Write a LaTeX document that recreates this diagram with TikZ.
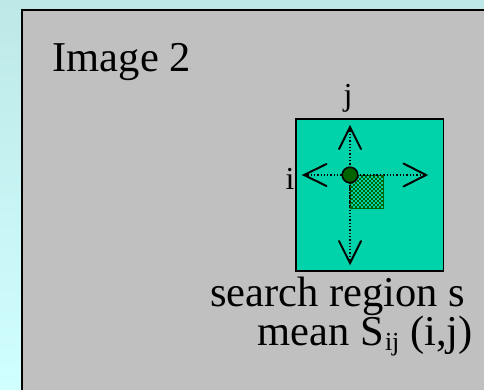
\documentclass[tikz,border=0pt]{standalone}
\usepackage{fontspec}
\setmainfont{Liberation Serif}
\usetikzlibrary{calc}
\definecolor{bgtop}{RGB}{190,232,232}
\definecolor{bgbot}{RGB}{208,255,255}
\definecolor{panelgray}{RGB}{192,192,192}
\definecolor{regionteal}{RGB}{0,211,170}
\definecolor{darkgreen}{RGB}{0,100,0}
\tikzset{
  bigtext/.style={inner sep=0pt, font=\fontsize{42.5}{50}\selectfont},
  smalltext/.style={inner sep=0pt, font=\fontsize{32}{36}\selectfont},
  dotline/.style={line width=1.3pt, dotted},
  barb/.style={line width=2pt, line cap=round, line join=miter},
}
\begin{document}
\begin{tikzpicture}[x=1pt,y=-1pt]
\useasboundingbox (0,0) rectangle (484,389);
\clip (0,0) rectangle (484,389);
% background
\fill[top color=bgtop, bottom color=bgbot] (0,0) rectangle (484,389);
% panel
\draw[fill=panelgray, line width=2pt] (22,10) rectangle (495,400);
% search region square
\draw[fill=regionteal, line width=1.5pt] (296,119) rectangle (443.5,271);
% centre and arrow tips
\coordinate (c) at (350,175);
\coordinate (tl) at (304,175);
\coordinate (tr) at (426,175);
\coordinate (tu) at (350,127);
\coordinate (td) at (350,263);
\draw[dotline] (tl) -- (tr);
\draw[dotline] (tu) -- (td);
% checkered mean square
\fill[darkgreen] (350,175) rectangle (383.5,208.5);
\foreach \i in {0,...,15}{
  \foreach \j in {0,...,15}{
    \pgfmathtruncatemacro{\cpar}{mod(\i+\j,2)}
    \ifnum\cpar=0
      \fill[regionteal] (351.3+2*\i,176.3+2*\j) rectangle ++(1.2,1.2);
    \fi
  }
}
\draw[dotline] (c) -- (350,208);
\draw[dotline] (c) -- (383,175);
% centre point
\draw[fill=darkgreen, line width=1.6pt] (c) circle (7.8);
% open arrow heads
\draw[barb] ($(tl)+(22.5,-11)$) -- (tl) -- ($(tl)+(22.5,11)$);
\draw[barb] ($(tr)+(-22.5,-11.5)$) -- (tr) -- ($(tr)+(-22.5,11.5)$);
\draw[barb] ($(tu)+(-11,22)$) -- (tu) -- ($(tu)+(11,22)$);
\draw[barb] ($(td)+(-11,-22)$) -- (td) -- ($(td)+(11,-22)$);
% labels
\node[bigtext, anchor=base west] (title) at (52.5,71) {Image 2};
\node[smalltext, anchor=base] (jlab) at (348,105) {j};
\node[smalltext, anchor=base] (ilab) at (290,189) {i};
\node[bigtext, anchor=base west] (cap1) at (210,306.5) {search region s};
\node[bigtext, anchor=base west] (cap2) at (257.5,345) {mean S\kern1pt\raisebox{-5pt}{\fontsize{26}{28}\selectfont ij} (i,j)};
\end{tikzpicture}
\end{document}
